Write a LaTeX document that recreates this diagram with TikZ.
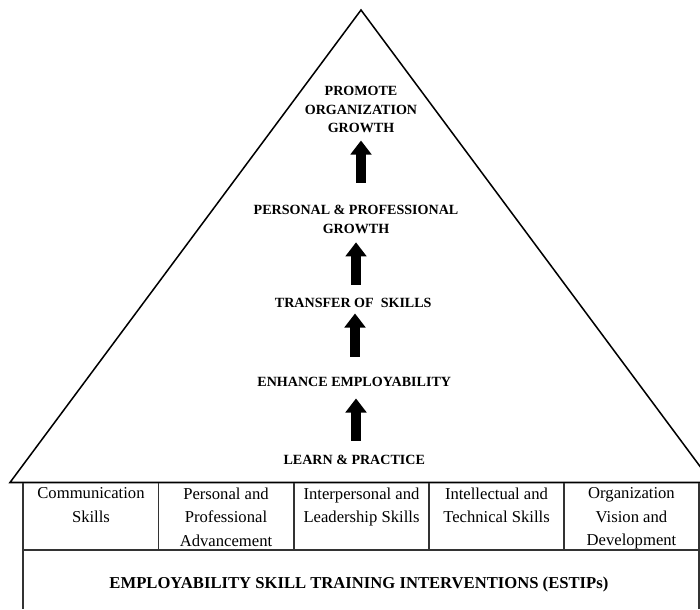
\documentclass[tikz,border=0pt]{standalone}
\usepackage{fontspec}
\setmainfont{Liberation Serif}
\usetikzlibrary{arrows.meta}

\begin{document}
\begin{tikzpicture}[x = 0.03cm, y = -0.03cm,
	stage/.style = { align = center, inner sep = 0pt, font = \bfseries\fontsize{12}{15.8}\selectfont },
	skill/.style = { align = center, inner sep = 0pt, anchor = north, font = \fontsize{14.2}{20}\selectfont },
	rise/.style = { draw, line width = 8.8pt, -{Triangle[length = 12pt, width = 17.5pt]} },
	tableline/.style = { draw = black!80, line width = 0.9pt }]
	\useasboundingbox (0, 0) rectangle (700, 609);
	\clip (0, 0) rectangle (700, 609);

	\draw [line width = 1.3pt] (10, 482.5) -- (361, 10) -- (712, 482.5) -- cycle;

	\node [stage] (promote) at (361, 109.5) { PROMOTE \\ ORGANIZATION \\ GROWTH };
	\node [stage] (personal) at (356, 219.5) { PERSONAL \& PROFESSIONAL \\ GROWTH };
	\node [stage] (transfer) at (355, 303) { TRANSFER OF\ \ SKILLS };
	\node [stage] (enhance) at (356, 382) { ENHANCE EMPLOYABILITY };
	\node [stage] (learn) at (356, 460) { LEARN \& PRACTICE };

	\draw [rise, shorten < = 19.2pt, shorten > = 6.4pt] (promote.south |- personal.north) -- (promote.south);
	\draw [rise, shorten < = 11.5pt, shorten > = 7.3pt] (personal.south |- transfer.north) -- (personal.south);
	\draw [rise, shorten < = 17.5pt, shorten > = 4.7pt] (transfer.south |- enhance.north) -- (transfer.south);
	\draw [rise, shorten < = 12.4pt, shorten > = 9.8pt] (enhance.south |- learn.north) -- (enhance.south);

	\draw [tableline] (23, 482.5) -- (23, 609);
	\draw [tableline] (699, 482.5) -- (699, 609);
	\draw [tableline] (23, 550) -- (699, 550);
	\foreach \x in { 158.5, 294, 429, 564 }
		\draw [tableline] (\x, 482.5) -- (\x, 550);
	\draw [line width = 1.6pt] (23, 482.5) -- (700, 482.5);

	\node [skill] (communication) at (91, 487.5) { Communication \\ Skills };
	\node [skill] (advancement) at (226, 487.5) { Personal and \\ Professional \\ Advancement };
	\node [skill] (leadership) at (361.5, 487.5) { Interpersonal and \\ Leadership Skills };
	\node [skill] (technical) at (496.5, 487.5) { Intellectual and \\ Technical Skills };
	\node [skill] (vision) at (631.5, 487.5) { Organization \\ Vision and \\ Development };

	\node [stage, font = \bfseries\fontsize{14.2}{16}\selectfont] (estip) at (361, 584) { EMPLOYABILITY SKILL TRAINING INTERVENTIONS (ESTIPs) };
\end{tikzpicture}
\end{document}
